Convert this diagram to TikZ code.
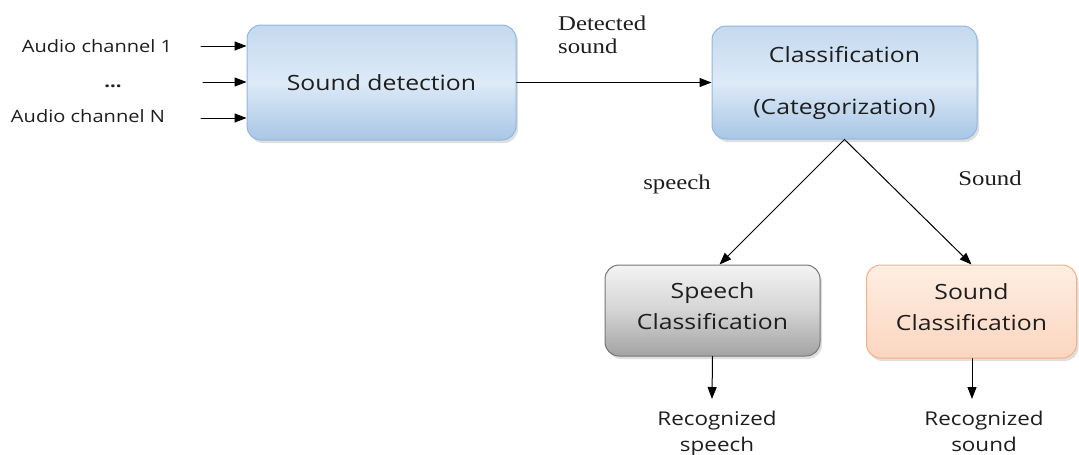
\documentclass[tikz,border=0pt]{standalone}
\usepackage{fontspec}
\setmainfont[FakeStretch=1.18]{Liberation Serif}
\setsansfont[FakeStretch=1.18]{Open Sans}
\usetikzlibrary{arrows.meta,shadows}
\definecolor{blueTop}{HTML}{C4D9EF}
\definecolor{blueMid}{HTML}{DDEAF7}
\definecolor{blueBot}{HTML}{A8C6E6}
\definecolor{blueLine}{HTML}{92B6DD}
\definecolor{grayTop}{HTML}{F4F4F4}
\definecolor{grayMid}{HTML}{D4D4D4}
\definecolor{grayBot}{HTML}{A3A3A3}
\definecolor{grayLine}{HTML}{767676}
\definecolor{orangeTop}{HTML}{FFEEE3}
\definecolor{orangeBot}{HTML}{FBD6C0}
\definecolor{orangeLine}{HTML}{F4B183}
\definecolor{txt}{HTML}{1E1E1E}
\begin{document}
\begin{tikzpicture}[x=1pt,y=-1pt,line cap=round,line join=round,>={Triangle[length=12pt,width=9pt]},
  box/.style={rounded corners=14pt,line width=1pt,text=txt,align=center,
    font=\sffamily\fontsize{21}{31}\selectfont,
    drop shadow={opacity=0.25,shadow xshift=2pt,shadow yshift=-3pt}},
  bluebox/.style={box,draw=blueLine,top color=blueTop,bottom color=blueBot,middle color=blueMid},
  graybox/.style={box,draw=grayLine,top color=grayTop,bottom color=grayBot,middle color=grayMid},
  orangebox/.style={box,draw=orangeLine,top color=orangeTop,bottom color=orangeBot},
  chan/.style={text=txt,font=\sffamily\fontsize{17}{20}\selectfont,inner sep=0pt},
  outtext/.style={text=txt,align=center,anchor=north,font=\sffamily\fontsize{19}{26}\selectfont,inner sep=0pt},
  edgetext/.style={text=txt,align=left,font=\rmfamily\fontsize{21}{23}\selectfont,inner sep=0pt},
  link/.style={line width=1pt,->}]
  \useasboundingbox (0,0) rectangle (1079,455);
  % boxes
  \node[bluebox,minimum width=269pt,minimum height=115pt] (detect) at (381.5,82.5) {Sound detection};
  \node[bluebox,minimum width=265pt,minimum height=113pt] (classify) at (844.5,82.5) {Classification\\[21pt](Categorization)};
  \node[graybox,minimum width=215pt,minimum height=91pt,text depth=9pt] (speechcls) at (712.5,310.5) {Speech\\Classification};
  \node[orangebox,minimum width=210pt,minimum height=93pt,text depth=9pt] (soundcls) at (971.5,311.5) {Sound\\Classification};
  % inputs
  \node[chan] (ch1) at (97,46) {Audio channel 1};
  \node[chan] (chdots) at (113,86) {\bfseries ...};
  \node[chan] (chN) at (88,116) {Audio channel N};
  \coordinate (in1) at (201,46);
  \coordinate (in2) at (203,82);
  \coordinate (in3) at (201,118);
  \draw[link] (in1) -- (in1 -| detect.west);
  \draw[link] (in2) -- (in2 -| detect.west);
  \draw[link] (in3) -- (in3 -| detect.west);
  % connectors
  \draw[link] (detect.east) -- (classify.west);
  \node[edgetext,anchor=north west] (detlbl) at (558,16) {Detected\\sound};
  \draw[link] (classify.south) -- ([xshift=7pt]speechcls.north);
  \draw[link] (classify.south) -- (soundcls.north);
  \node[edgetext] (speechlbl) at (677,184) {speech};
  \node[edgetext] (soundlbl) at (990,178) {Sound};
  % outputs
  \node[outtext] (recspeech) at (717,411) {Recognized\\speech};
  \node[outtext] (recsound) at (984,411) {Recognized\\sound};
  \coordinate (out1) at (712,399);
  \coordinate (out2) at (972,399);
  \draw[link] (speechcls.south |- speechcls.south) -- (out1);
  \draw[link] (soundcls.south -| out2) -- (out2);
\end{tikzpicture}
\end{document}
